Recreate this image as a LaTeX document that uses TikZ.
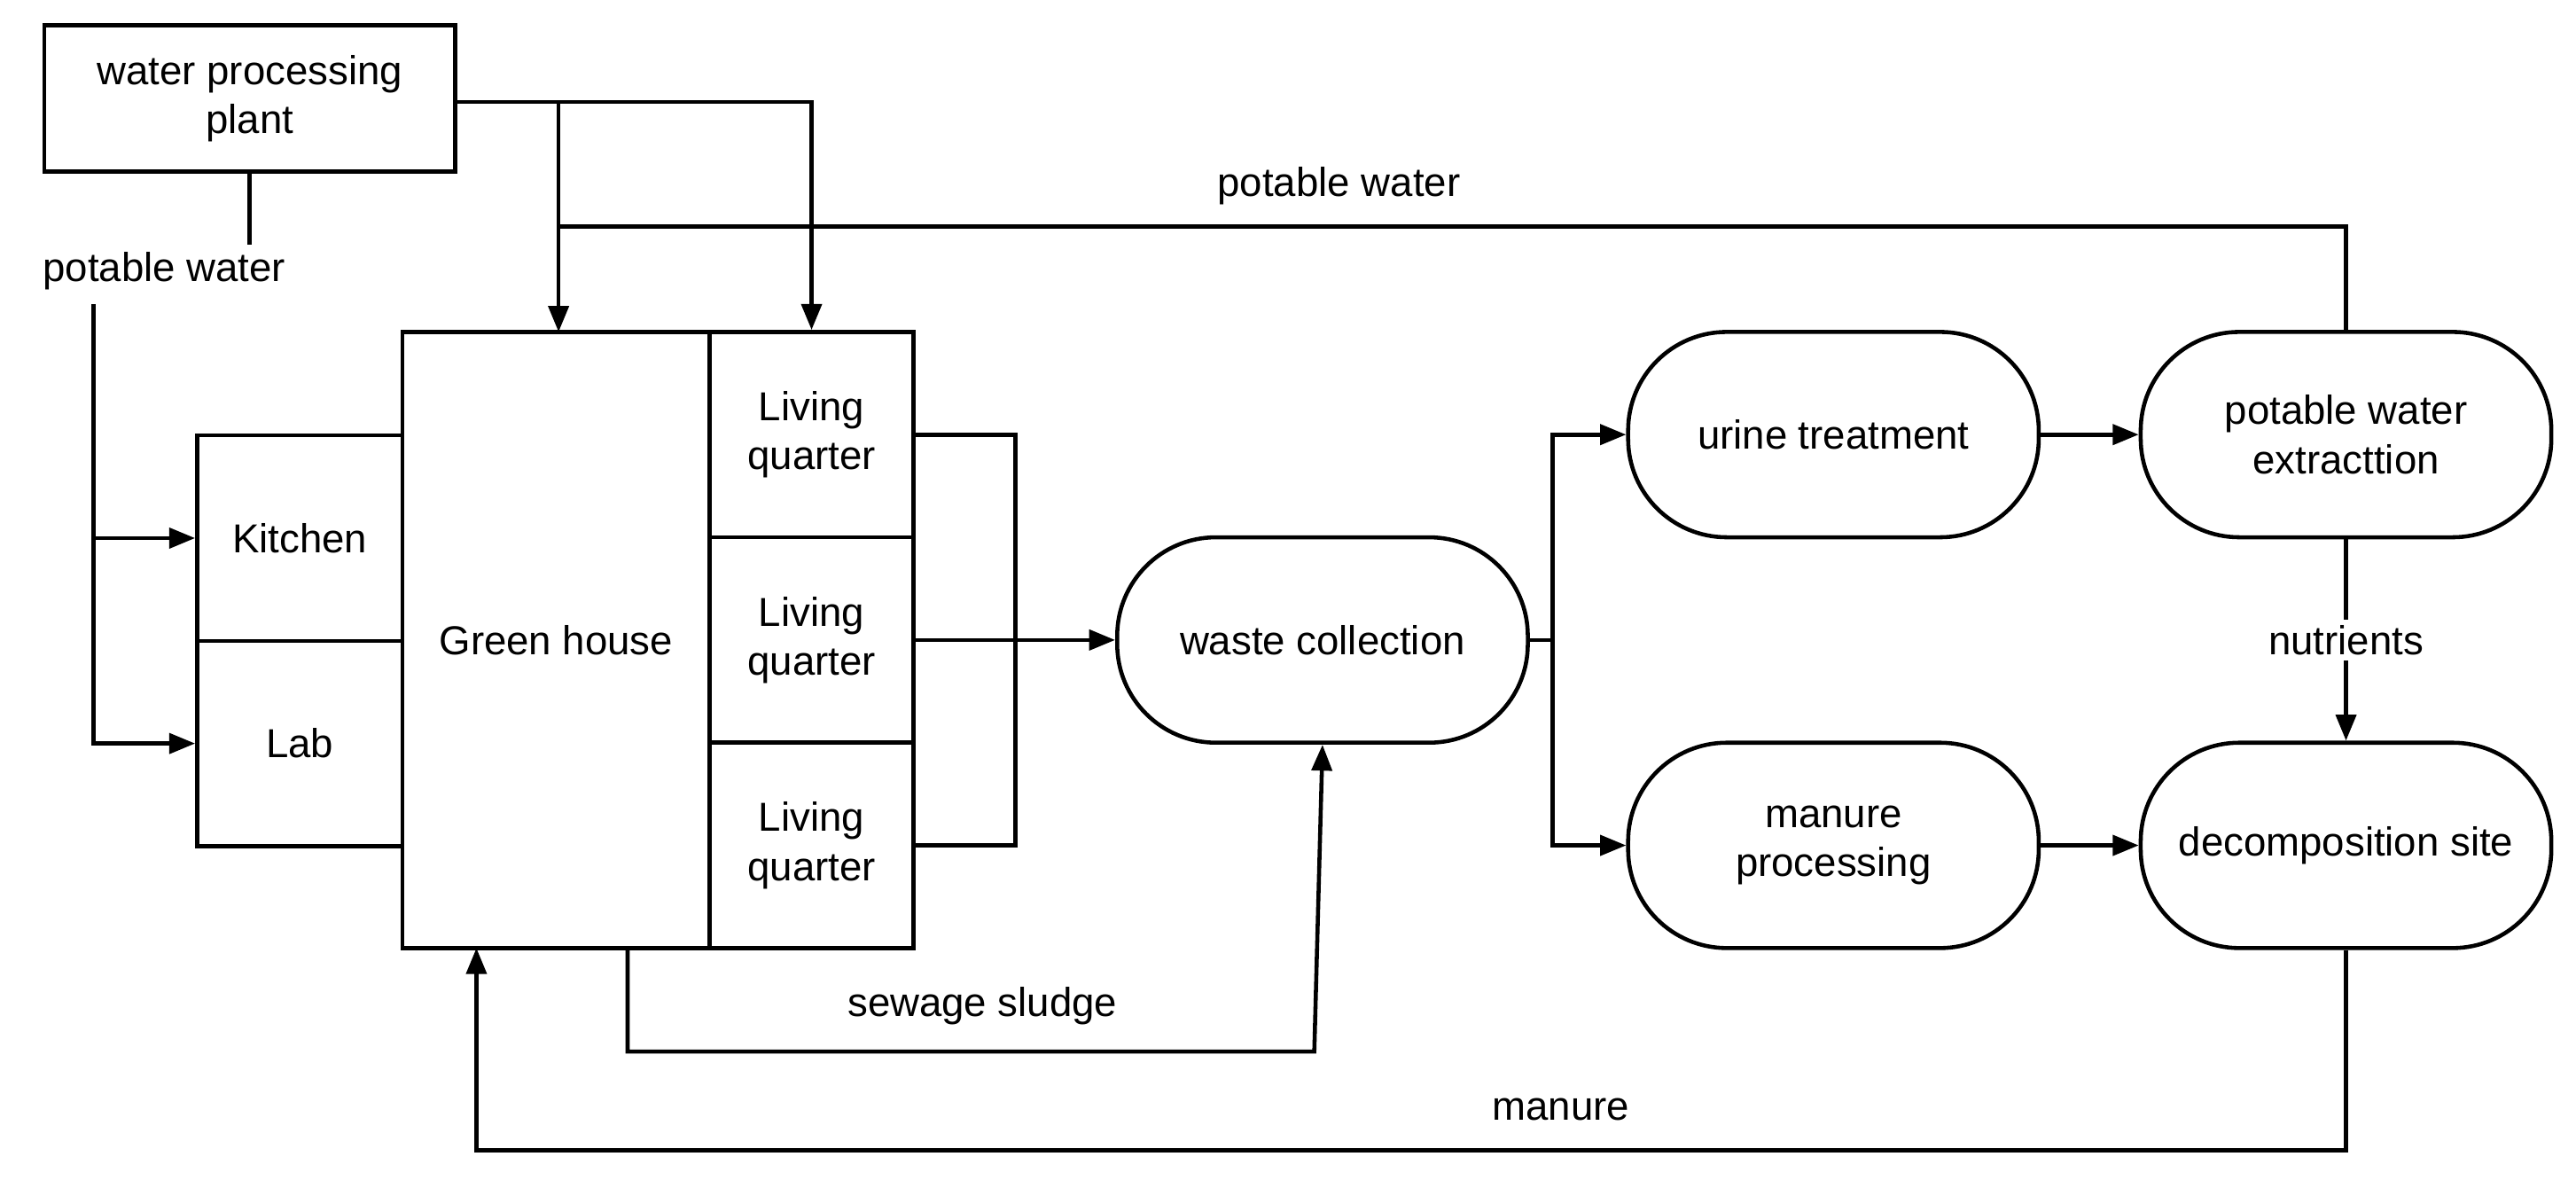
\documentclass[tikz,border=0pt]{standalone}
\usepackage{fontspec}
\setmainfont{Liberation Sans}
\usetikzlibrary{positioning}
\usetikzlibrary{arrows.meta}
\begin{document}
\begin{tikzpicture}[x=0.02cm,y=-0.02cm,line width=1.4pt,
    font=\fontsize{14}{17}\selectfont,
    box/.style={rectangle,draw,align=center,inner sep=0pt},
    pill/.style={rectangle,draw,rounded corners=1.2cm,align=center,minimum width=5cm,minimum height=2.5cm},
    lbl/.style={fill=white,inner sep=2pt},
    flow/.style={-{Triangle[length=9pt,width=7pt]}}]

            \useasboundingbox (0,0) rectangle (1568,718);

            % boxes
            \path   (152,60) node (plant) [box,minimum width=5cm,minimum height=1.78cm] {water processing\\plant}
                    (182.5,327.5) node (kitchen) [box,minimum width=2.5cm,minimum height=2.5cm] {Kitchen}
                    (182.5,452.5) node (lab) [box,minimum width=2.5cm,minimum height=2.5cm] {Lab}
                    (338.5,389.5) node (green) [box,minimum width=3.74cm,minimum height=7.5cm] {Green house}
                    (494,264.5) node (liv1) [box,minimum width=2.48cm,minimum height=2.5cm] {Living\\quarter}
                    (494,389.5) node (liv2) [box,minimum width=2.48cm,minimum height=2.5cm] {Living\\quarter}
                    (494,514.5) node (liv3) [box,minimum width=2.48cm,minimum height=2.5cm] {Living\\quarter}
                    (805,389.5) node (waste) [pill] {waste collection}
                    (1116,264.5) node (urine) [pill] {urine treatment}
                    (1428,264.5) node (extract) [pill] {potable water\\extracttion}
                    (1116,514.5) node (manproc) [pill] {manure\\processing}
                    (1428,514.5) node (decomp) [pill] {decomposition site};

            % junction points
            \coordinate (pwl) at (100,165);
            \coordinate (jtop) at (494,62);
            \coordinate (jmid) at (340,138);
            \coordinate (jq) at (618,389.5);
            \coordinate (jw) at (945,389.5);

            % potable water to kitchen and lab
            \node (pwlabel) [lbl] at (pwl) {potable water};
            \draw (plant.south) -- (plant.south |- pwlabel.north);
            \draw (57,185) -- (57,327.5);
            \draw[flow] (57,327.5) -- (kitchen.west);
            \draw[flow] (57,327.5) |- (lab.west);

            % potable water to green house and living quarter
            \draw[flow] (plant.east |- jtop) -| (liv1.north);
            \draw[flow] (340,62) -- (340,202);
            \draw (extract.north) |- (jmid);
            \node [lbl,fill=none] at (815,113) {potable water};

            % living quarters to waste collection
            \draw (liv1.east) -| (jq);
            \draw (liv3.east) -| (jq);
            \draw[flow] (liv2.east) -- (waste.west);

            % sewage sludge
            \draw[flow] (382,577) |- (800,640) -- (waste.south);
            \node at (598,612) {sewage sludge};

            % waste to treatment
            \draw (waste.east) -- (jw);
            \draw[flow] (jw) |- (urine.west);
            \draw[flow] (jw) |- (manproc.west);
            \draw[flow] (urine.east) -- (extract.west);
            \draw[flow] (manproc.east) -- (decomp.west);

            % nutrients
            \draw[flow] (extract.south) -- (decomp.north)
                node [midway,lbl] {nutrients};

            % manure back to green house
            \draw[flow] (decomp.south) |- (290,700) -- (290,577);
            \node at (950,675) {manure};
\end{tikzpicture}
\end{document}
